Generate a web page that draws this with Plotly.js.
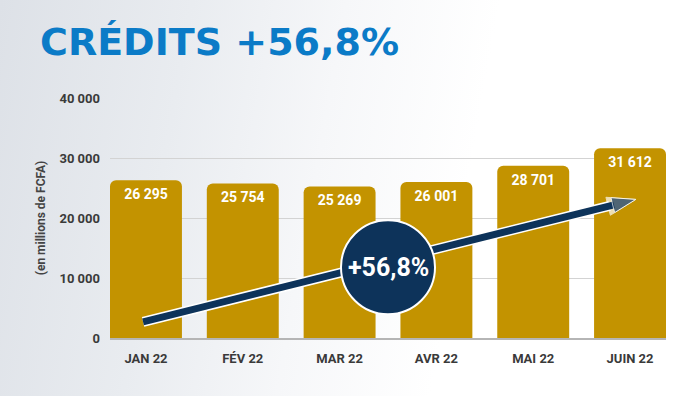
<!DOCTYPE html>
<html>
<head>
<meta charset="utf-8">
<script src="https://cdn.plot.ly/plotly-3.0.1.min.js"></script>
<style>
html,body{margin:0;padding:0;}
body{width:700px;height:396px;overflow:hidden;
background:linear-gradient(100deg,#dde1e7 0%,#e9ecf0 25%,#f6f7f9 45%,#ffffff 65%,#ffffff 100%);}
#chart{width:700px;height:396px;}
</style>
</head>
<body>
<div id="chart"></div>
<script>
const months = ['JAN 22','FÉV 22','MAR 22','AVR 22','MAI 22','JUIN 22'];
const credits = [26295, 25754, 25269, 26001, 28701, 31612];
const yTicks = [0, 10000, 20000, 30000, 40000];
const growthLabel = '+56,8%';
const chartTitle = 'CRÉDITS +56,8%';
const yTitle = '(en millions de FCFA)';
// decorative trend arrow (start / end in axis units)
const arrowX = [-0.03, 5.06];
const arrowY = [2700, 23100];

const navy = '#0d335a';
const gold = '#c39300';
const xRange = [-0.3715, 5.3715];

const bars = {
  type: 'bar', x: months, y: credits,
  marker: {color: gold, cornerradius: 6},
  texttemplate: '%{y:,}', textposition: 'inside', insidetextanchor: 'end',
  textangle: 0,
  textfont: {family: 'Roboto', size: 14, color: '#ffffff', weight: 'bold'},
  hoverinfo: 'skip', cliponaxis: false
};
const arrowOutline = {
  type: 'scatter', mode: 'lines+markers', x: arrowX, y: arrowY, xaxis: 'x2',
  line: {color: '#ffffff', width: 10},
  marker: {symbol: ['circle', 'arrow'], size: [10, 30], color: '#ffffff', angleref: 'previous'},
  hoverinfo: 'skip', cliponaxis: false
};
const arrow = {
  type: 'scatter', mode: 'lines+markers', x: arrowX, y: arrowY, xaxis: 'x2',
  line: {color: navy, width: 7},
  marker: {symbol: ['circle', 'arrow'], size: [7, 25], color: navy, angleref: 'previous'},
  hoverinfo: 'skip', cliponaxis: false
};

const tickFont = {family: 'Roboto', size: 13, color: '#3a3a3a', weight: 'bold'};

const layout = {
  width: 700, height: 396,
  margin: {l: 110, r: 34, t: 98, b: 58},
  paper_bgcolor: 'rgba(0,0,0,0)', plot_bgcolor: 'rgba(0,0,0,0)',
  separators: ', ',
  showlegend: false,
  bargap: 0.257,
  title: {text: chartTitle, x: 40/700, xanchor: 'left', y: 1 - 42/396, yanchor: 'middle',
    font: {family: 'DejaVu Sans', size: 38, color: '#0b7bc7', weight: 'bold'}},
  xaxis: {type: 'category', range: xRange, showgrid: false, zeroline: false,
    showline: true, linecolor: '#b5b5b5', linewidth: 1.5, ticks: '', ticklabelstandoff: 8,
    tickfont: tickFont},
  xaxis2: {type: 'linear', range: xRange, overlaying: 'x', visible: false},
  yaxis: {range: [0, 40000], tickvals: yTicks, tickformat: ',', showgrid: true,
    gridcolor: '#d3d3d3', gridwidth: 1, zeroline: false, ticks: '', ticklabelstandoff: 9,
    tickfont: tickFont,
    title: {text: yTitle, standoff: 11, font: {family: 'Roboto', size: 12, color: '#444', weight: 'bold'}}},
  shapes: [{type: 'circle', layer: 'above', xref: 'x2', yref: 'y',
    xsizemode: 'pixel', ysizemode: 'pixel', xanchor: 2.5, yanchor: 11800,
    x0: -47, x1: 47, y0: -47, y1: 47,
    fillcolor: navy, line: {color: '#ffffff', width: 2}}],
  annotations: [{x: 2.5, y: 11800, xref: 'x2', yref: 'y', text: growthLabel, showarrow: false,
    font: {family: 'Roboto', size: 25, color: '#ffffff', weight: 'bold'}}]
};

Plotly.newPlot('chart', [bars, arrowOutline, arrow], layout, {displayModeBar: false, staticPlot: true});
</script>
</body>
</html>
